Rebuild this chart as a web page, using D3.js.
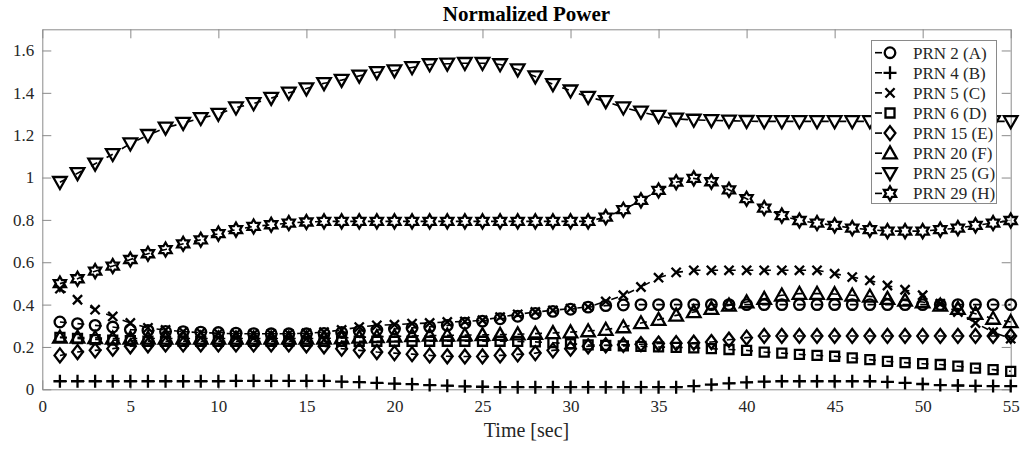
<!DOCTYPE html>
<html>
<head>
<meta charset="utf-8">
<script src="https://cdn.jsdelivr.net/npm/d3@7"></script>
<style>
  body { margin: 0; background: #fff; }
  svg { display: block; font-family: "Liberation Serif", "Times New Roman", serif; }
</style>
</head>
<body>
<figure id="chart" style="margin:0"></figure>
<script>
// time axis, one sample per second
const time = d3.range(1, 56);

const seriesNames = ["PRN 2 (A)", "PRN 4 (B)", "PRN 5 (C)", "PRN 6 (D)", "PRN 15 (E)", "PRN 20 (F)", "PRN 25 (G)", "PRN 29 (H)"];
const seriesMarkers = ["circle", "plus", "x", "square", "diamond", "triUp", "triDown", "hexagram"];

const prn2 = [0.318, 0.31, 0.302, 0.294, 0.282, 0.278, 0.273, 0.272, 0.27, 0.268, 0.265, 0.263, 0.262, 0.262, 0.262, 0.264,
  0.268, 0.275, 0.28, 0.285, 0.29, 0.295, 0.302, 0.312, 0.322, 0.333, 0.345, 0.358, 0.368, 0.378, 0.388,
  0.395, 0.398, 0.4, 0.4, 0.4, 0.4, 0.4, 0.4, 0.4, 0.4, 0.4, 0.4, 0.4, 0.4, 0.4, 0.4, 0.4, 0.4, 0.4, 0.4, 0.4, 0.4, 0.4, 0.4];
const prn4 = [0.038, 0.038, 0.038, 0.038, 0.038, 0.038, 0.038, 0.038, 0.038, 0.038, 0.04, 0.04, 0.04, 0.04, 0.04, 0.04,
  0.036, 0.034, 0.03, 0.027, 0.024, 0.02, 0.017, 0.014, 0.012, 0.01, 0.01, 0.01, 0.01, 0.01, 0.01, 0.01, 0.01, 0.01, 0.01, 0.01,
  0.015, 0.022, 0.028, 0.033, 0.036, 0.038, 0.038, 0.038, 0.038, 0.038, 0.038,
  0.035, 0.03, 0.025, 0.02, 0.018, 0.016, 0.015, 0.015];
const prn5 = [0.475, 0.423, 0.376, 0.344, 0.313, 0.29, 0.28, 0.272, 0.268, 0.265, 0.262, 0.262, 0.262, 0.262, 0.265, 0.27,
  0.28, 0.294, 0.302, 0.305, 0.31, 0.313, 0.318, 0.32, 0.326, 0.341, 0.354, 0.365, 0.373, 0.381, 0.389,
  0.415, 0.444, 0.483, 0.527, 0.552, 0.562, 0.562, 0.562, 0.562, 0.562, 0.562, 0.562, 0.562,
  0.546, 0.53, 0.514, 0.49, 0.47, 0.444, 0.404, 0.365, 0.313, 0.27, 0.239];
const prn6 = [0.245, 0.24, 0.235, 0.232, 0.23, 0.227, 0.227, 0.227, 0.227, 0.227, 0.227, 0.227, 0.227, 0.227, 0.227, 0.227,
  0.227, 0.227, 0.227, 0.227, 0.227, 0.227, 0.227, 0.227, 0.227, 0.227,
  0.226, 0.224, 0.22, 0.215, 0.21, 0.207, 0.205, 0.203, 0.2, 0.198, 0.196, 0.192, 0.188, 0.184,
  0.176, 0.171, 0.165, 0.16, 0.156, 0.148, 0.14, 0.132, 0.126, 0.121, 0.117, 0.109, 0.1, 0.093, 0.085];
const prn15 = [0.16, 0.176, 0.184, 0.192, 0.203, 0.208, 0.212, 0.212, 0.212, 0.212, 0.212, 0.212, 0.212, 0.212,
  0.208, 0.203, 0.192, 0.184, 0.176, 0.171, 0.166, 0.16, 0.156, 0.155, 0.155, 0.16, 0.165, 0.171, 0.184, 0.192,
  0.203, 0.208, 0.21, 0.213, 0.216, 0.218, 0.22, 0.223, 0.234, 0.244,
  0.252, 0.252, 0.252, 0.252, 0.252, 0.252, 0.252, 0.252, 0.252, 0.252, 0.252, 0.252, 0.252, 0.252, 0.252];
const prn20 = [0.245, 0.245, 0.243, 0.24, 0.24, 0.24, 0.24, 0.24, 0.24, 0.24, 0.24, 0.24, 0.24, 0.24, 0.24, 0.24,
  0.242, 0.245, 0.248, 0.25, 0.252, 0.254, 0.255, 0.256, 0.257, 0.258, 0.26, 0.263, 0.266, 0.27, 0.275,
  0.282, 0.294, 0.313, 0.329, 0.349, 0.365, 0.381, 0.396, 0.412, 0.428, 0.444, 0.452, 0.452,
  0.45, 0.444, 0.439, 0.428, 0.42, 0.412, 0.396, 0.381, 0.357, 0.334, 0.318];
const prn25 = [0.978, 1.02, 1.065, 1.11, 1.16, 1.2, 1.235, 1.257, 1.28, 1.3, 1.33, 1.35, 1.375, 1.4, 1.42, 1.445,
  1.46, 1.48, 1.497, 1.505, 1.52, 1.534, 1.537, 1.54, 1.54, 1.534, 1.51, 1.477, 1.44, 1.41, 1.38,
  1.36, 1.33, 1.31, 1.29, 1.277, 1.272, 1.27, 1.268, 1.266,
  1.265, 1.265, 1.265, 1.265, 1.265, 1.265, 1.265, 1.265, 1.265, 1.265, 1.265, 1.265, 1.265, 1.265, 1.265];
const prn29 = [0.499, 0.522, 0.558, 0.582, 0.613, 0.64, 0.66, 0.687, 0.706, 0.735, 0.754, 0.769, 0.777, 0.785, 0.79,
  0.793, 0.793, 0.793, 0.793, 0.793, 0.793, 0.793, 0.793, 0.793, 0.793, 0.793, 0.793, 0.793, 0.793, 0.793, 0.793,
  0.813, 0.848, 0.892, 0.939, 0.978, 0.996, 0.98, 0.942, 0.9, 0.856, 0.82, 0.797, 0.785, 0.774, 0.761,
  0.754, 0.747, 0.747, 0.747, 0.754, 0.761, 0.774, 0.785, 0.797];

const seriesValues = [prn2, prn4, prn5, prn6, prn15, prn20, prn25, prn29];

const xTicks = [0, 5, 10, 15, 20, 25, 30, 35, 40, 45, 50, 55];
const yTicks = [0, 0.2, 0.4, 0.6, 0.8, 1, 1.2, 1.4, 1.6];

const width = 1023;
const height = 450;
const margin = { top: 29.3, right: 12.3, bottom: 60.7, left: 42.3 };
const axisColor = "#8a8a8a";
const textColor = "#262626";

// MATLAB-like marker outlines, centred on the data point
function markerPath(type) {
  switch (type) {
    case "circle": {
      const p = d3.path();
      p.arc(0, 0, 5.3, 0, 2 * Math.PI);
      return p.toString();
    }
    case "plus": return "M-6.5,0H6.5M0,-6.5V6.5";
    case "x": return "M-4.6,-4.6L4.6,4.6M-4.6,4.6L4.6,-4.6";
    case "square": return "M-4.5,-4.5H4.5V4.5H-4.5Z";
    case "diamond": return "M0,-7L5.4,0L0,7L-5.4,0Z";
    case "triUp": return "M0,-6.8L6.8,5.2L-6.8,5.2Z";
    case "triDown": return "M0,6.8L6.8,-5.2L-6.8,-5.2Z";
    case "hexagram": {
      const pts = [];
      for (let i = 0; i < 12; i++) {
        const r = i % 2 === 0 ? 7 : 7 / Math.sqrt(3);
        const a = -Math.PI / 2 + i * Math.PI / 6;
        pts.push([r * Math.cos(a), r * Math.sin(a)]);
      }
      return "M" + pts.map(p => p[0].toFixed(2) + "," + p[1].toFixed(2)).join("L") + "Z";
    }
  }
}

const svg = d3.select("#chart").append("svg")
  .attr("width", width)
  .attr("height", height);

const x = d3.scaleLinear().domain([0, 55]).range([margin.left, width - margin.right]);
const y = d3.scaleLinear().domain([0, 1.7]).range([height - margin.bottom, margin.top]);

// title
svg.append("text")
  .attr("x", (x.range()[0] + x.range()[1]) / 2)
  .attr("y", 21)
  .attr("text-anchor", "middle")
  .attr("font-size", 21)
  .attr("font-weight", "bold")
  .attr("fill", "#000")
  .text("Normalized Power");

// box with inward ticks on all four sides
const tickLen = 9;
const axes = svg.append("g");
axes.append("g")
  .attr("transform", "translate(0," + y(0) + ")")
  .call(d3.axisBottom(x).tickValues(xTicks).tickSizeInner(-tickLen).tickSizeOuter(0).tickPadding(11).tickFormat(d3.format("~g")));
axes.append("g")
  .attr("transform", "translate(0," + y(1.7) + ")")
  .call(d3.axisTop(x).tickValues(xTicks).tickSizeInner(-tickLen).tickSizeOuter(0).tickFormat(""));
axes.append("g")
  .attr("transform", "translate(" + x(0) + ",0)")
  .call(d3.axisLeft(y).tickValues(yTicks).tickSizeInner(-tickLen).tickSizeOuter(0).tickPadding(8).tickFormat(d3.format("~g")));
axes.append("g")
  .attr("transform", "translate(" + x(55) + ",0)")
  .call(d3.axisRight(y).tickValues(yTicks).tickSizeInner(-tickLen).tickSizeOuter(0).tickFormat(""));
axes.selectAll("path.domain").attr("stroke", axisColor).attr("stroke-width", 1);
axes.selectAll(".tick line").attr("stroke", axisColor).attr("stroke-width", 1);
axes.selectAll(".tick text")
  .attr("font-family", "Liberation Serif, Times New Roman, serif")
  .attr("font-size", 17)
  .attr("fill", textColor);

// x label
svg.append("text")
  .attr("x", (x.range()[0] + x.range()[1]) / 2)
  .attr("y", 437)
  .attr("text-anchor", "middle")
  .attr("font-size", 20)
  .attr("fill", textColor)
  .text("Time [sec]");

// series
const line = d3.line().x(d => x(d[0])).y(d => y(d[1]));
const plot = svg.append("g");
seriesValues.forEach((vals, i) => {
  const pts = time.map((t, k) => [t, vals[k]]);
  const g = plot.append("g");
  g.append("path")
    .attr("d", line(pts))
    .attr("fill", "none")
    .attr("stroke", "#000")
    .attr("stroke-width", 1.6)
    .attr("stroke-dasharray", "7,10.6");
  g.selectAll("path.marker")
    .data(pts)
    .enter()
    .append("path")
    .attr("class", "marker")
    .attr("d", markerPath(seriesMarkers[i]))
    .attr("transform", d => "translate(" + x(d[0]) + "," + y(d[1]) + ")")
    .attr("fill", "none")
    .attr("stroke", "#000")
    .attr("stroke-width", 2.3);
});

// legend
const legend = svg.append("g");
legend.append("rect")
  .attr("x", 871.5)
  .attr("y", 40.5)
  .attr("width", 125)
  .attr("height", 163)
  .attr("fill", "#fff")
  .attr("stroke", axisColor)
  .attr("stroke-width", 1);
seriesNames.forEach((name, i) => {
  const cy = 52.7 + i * 20.1;
  const row = legend.append("g").attr("transform", "translate(0," + cy + ")");
  row.append("line")
    .attr("x1", 875).attr("x2", 890)
    .attr("y1", 0).attr("y2", 0)
    .attr("stroke", "#000")
    .attr("stroke-width", 1.6)
    .attr("stroke-dasharray", "7,10.6");
  row.append("path")
    .attr("d", markerPath(seriesMarkers[i]))
    .attr("transform", "translate(890,0)")
    .attr("fill", "none")
    .attr("stroke", "#000")
    .attr("stroke-width", 2.3);
  row.append("text")
    .attr("x", 913)
    .attr("y", 6)
    .attr("font-size", 17)
    .attr("fill", textColor)
    .text(name);
});
</script>
</body>
</html>
